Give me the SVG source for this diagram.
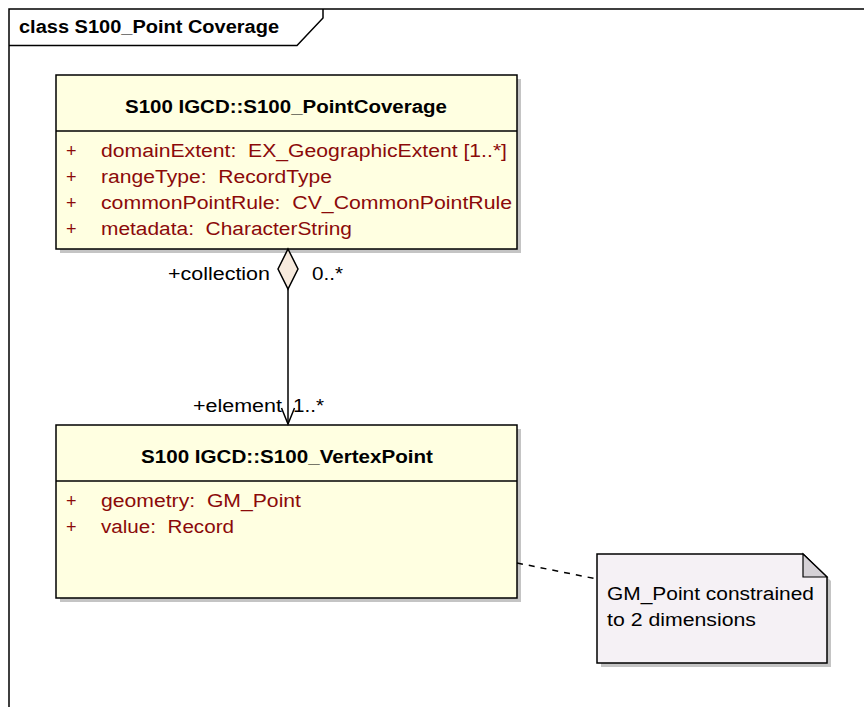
<svg xmlns="http://www.w3.org/2000/svg" width="864" height="707" viewBox="0 0 864 707">
<style>
.t{font-family:"Liberation Sans",Arial,sans-serif;font-size:18px;fill:#000;white-space:pre}
.b{font-weight:bold}
.a{fill:#8B0A0A}
.cls{fill:#FFFFE1;stroke:#000;stroke-width:1.5}
.sh{fill:#C4C4C4}
.ln{stroke:#000;stroke-width:1.5;fill:none}
</style>
<rect width="864" height="707" fill="#fff"/>
<g id="frame">
<path class="ln" d="M9,707 V9 H864"/>
<path class="ln" d="M9,45.5 H297 L323,18 V9"/>
<text class="t b" x="19" y="33" textLength="260" lengthAdjust="spacingAndGlyphs">class S100_Point Coverage</text>
</g>
<g id="S100_PointCoverage">
<rect class="sh" x="60" y="79" width="461" height="174"/>
<rect class="cls" x="56" y="75" width="461" height="174"/>
<line class="ln" x1="56" y1="131" x2="517" y2="131"/>
<text class="t b" x="125" y="113" textLength="322" lengthAdjust="spacingAndGlyphs">S100 IGCD::S100_PointCoverage</text>
<text class="t a" x="66" y="157">+</text>
<text class="t a" x="101" y="157" xml:space="preserve" textLength="406" lengthAdjust="spacingAndGlyphs">domainExtent:  EX_GeographicExtent [1..*]</text>
<text class="t a" x="66" y="183">+</text>
<text class="t a" x="101" y="183" xml:space="preserve" textLength="231" lengthAdjust="spacingAndGlyphs">rangeType:  RecordType</text>
<text class="t a" x="66" y="209">+</text>
<text class="t a" x="101" y="209" xml:space="preserve" textLength="411" lengthAdjust="spacingAndGlyphs">commonPointRule:  CV_CommonPointRule</text>
<text class="t a" x="66" y="235">+</text>
<text class="t a" x="101" y="235" xml:space="preserve" textLength="251" lengthAdjust="spacingAndGlyphs">metadata:  CharacterString</text>
</g>
<g id="S100_VertexPoint">
<rect class="sh" x="60" y="429" width="461" height="173"/>
<rect class="cls" x="56" y="425" width="461" height="173"/>
<line class="ln" x1="56" y1="481" x2="517" y2="481"/>
<text class="t b" x="141" y="463" textLength="292" lengthAdjust="spacingAndGlyphs">S100 IGCD::S100_VertexPoint</text>
<text class="t a" x="66" y="507">+</text>
<text class="t a" x="101" y="507" xml:space="preserve" textLength="200" lengthAdjust="spacingAndGlyphs">geometry:  GM_Point</text>
<text class="t a" x="66" y="533">+</text>
<text class="t a" x="101" y="533" xml:space="preserve" textLength="133" lengthAdjust="spacingAndGlyphs">value:  Record</text>
</g>
<g id="note">
<path class="sh" d="M601,558 H807 L831,581 V667 H601 Z"/>
<path d="M597,554 H803 L827,577 V663 H597 Z" fill="#F5F1F5" stroke="#000" stroke-width="1.5"/>
<path d="M803,554 V577 H827 Z" fill="#D5D1D6" stroke="#000" stroke-width="1.2"/>
<text class="t" x="607" y="600" textLength="207" lengthAdjust="spacingAndGlyphs">GM_Point constrained</text>
<text class="t" x="607" y="626" textLength="149" lengthAdjust="spacingAndGlyphs">to 2 dimensions</text>
</g>
<g id="connectors">
<line class="ln" x1="288" y1="289" x2="288" y2="424"/>
<path d="M288,249 L298,269 L288,289 L278,269 Z" fill="#F7EADD" stroke="#000" stroke-width="1.5"/>
<path class="ln" d="M281.5,408 L288,424 L294.5,408"/>
<line x1="517" y1="563" x2="597" y2="579" stroke="#000" stroke-width="1.5" stroke-dasharray="6,6"/>
<text class="t" x="270" y="280" text-anchor="end" textLength="102" lengthAdjust="spacingAndGlyphs">+collection</text>
<text class="t" x="312" y="280" textLength="31" lengthAdjust="spacingAndGlyphs">0..*</text>
<text class="t" x="282" y="412" text-anchor="end" textLength="89" lengthAdjust="spacingAndGlyphs">+element</text>
<text class="t" x="293" y="412" textLength="31" lengthAdjust="spacingAndGlyphs">1..*</text>
</g>
</svg>
